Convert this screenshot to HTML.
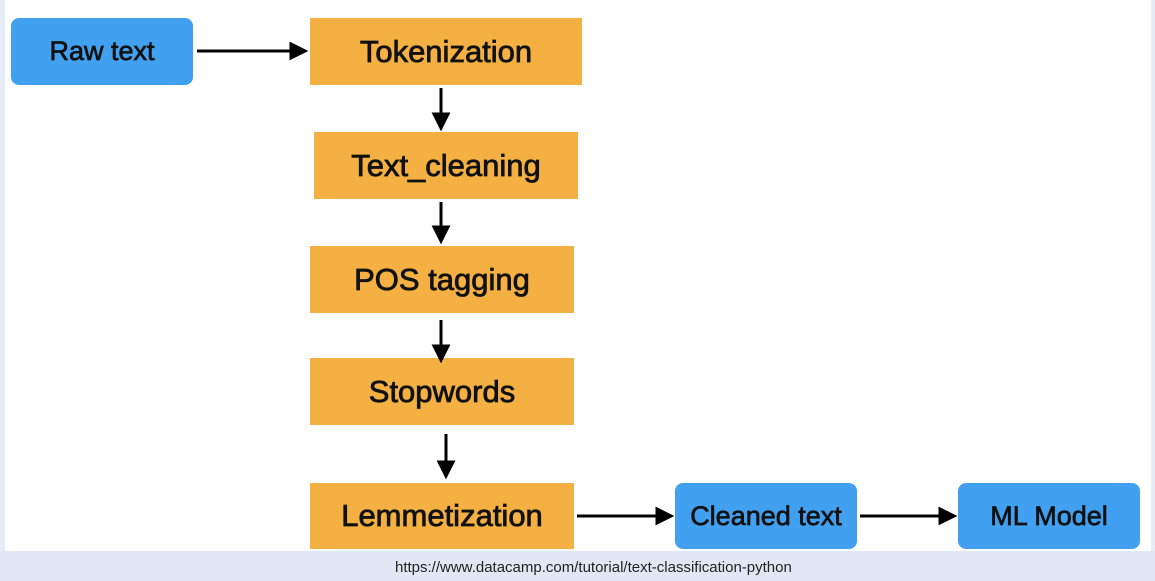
<!DOCTYPE html>
<html><head><meta charset="utf-8"><style>
body{margin:0;width:1155px;height:581px;background:#fff;position:relative;overflow:hidden;font-family:"Liberation Sans",sans-serif}
.b{position:absolute;display:flex;align-items:center;justify-content:center;font-size:27px;color:#111;-webkit-text-stroke:0.7px #111}
.o{background:#f4b042;font-size:31px;-webkit-text-stroke:0.8px #111}
.u{background:#42a0f0;border-radius:8px}
#foot{position:absolute;left:0;top:551px;width:1155px;height:30px;background:#dfe8f4}
#foot span{position:absolute;left:395px;top:8px;font-size:15px;color:#222}
#ls{position:absolute;left:0;top:0;width:5px;height:551px;background:#e6edf7}
#rs{position:absolute;right:0;top:0;width:4px;height:551px;background:#e6edf7}
</style></head><body>
<div id="ls"></div><div id="rs"></div>
<div class="b u" style="left:11px;top:18px;width:182px;height:67px">Raw text</div>
<div class="b o" style="left:310px;top:18px;width:272px;height:67px">Tokenization</div>
<div class="b o" style="left:314px;top:132px;width:264px;height:67px">Text_cleaning</div>
<div class="b o" style="left:310px;top:246px;width:264px;height:67px">POS tagging</div>
<div class="b o" style="left:310px;top:358px;width:264px;height:67px">Stopwords</div>
<div class="b o" style="left:310px;top:483px;width:264px;height:66px">Lemmetization</div>
<div class="b u" style="left:675px;top:483px;width:182px;height:66px">Cleaned text</div>
<div class="b u" style="left:958px;top:483px;width:182px;height:66px">ML Model</div>
<svg width="1155" height="581" style="position:absolute;left:0;top:0">
<g stroke="#000" stroke-width="3" fill="#000">
<line x1="197" y1="51" x2="292" y2="51"/><path d="M291,44L305,51L291,58z"/>
<line x1="441" y1="88" x2="441" y2="116"/><path d="M434,114L441,128L448,114z"/>
<line x1="441" y1="202" x2="441" y2="229"/><path d="M434,227L441,241L448,227z"/>
<line x1="441" y1="320" x2="441" y2="348"/><path d="M434,346L441,360L448,346z"/>
<line x1="446" y1="434" x2="446" y2="464"/><path d="M439,462L446,476L453,462z"/>
<line x1="577" y1="516" x2="658" y2="516"/><path d="M657,509L671,516L657,523z"/>
<line x1="860" y1="516" x2="941" y2="516"/><path d="M940,509L954,516L940,523z"/>
</g></svg>
<div id="foot"><span>https://www.datacamp.com/tutorial/text-classification-python</span></div>
</body></html>
